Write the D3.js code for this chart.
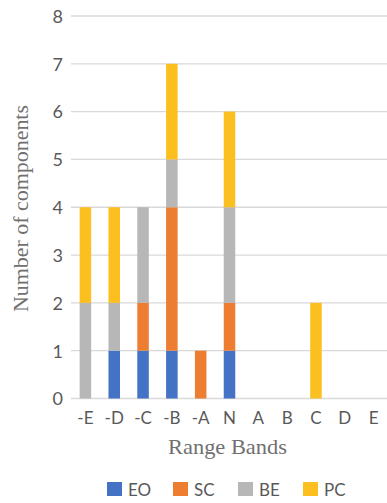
<!DOCTYPE html>
<html>
<head>
<meta charset="utf-8">
<script src="https://cdn.jsdelivr.net/npm/d3@7"></script>
<style>
  html, body { margin: 0; padding: 0; background: #fff; }
  svg { display: block; }
</style>
</head>
<body>
<svg id="chart" width="387" height="503"></svg>
<script>
const categories = ["-E", "-D", "-C", "-B", "-A", "N", "A", "B", "C", "D", "E"];
const seriesNames = ["EO", "SC", "BE", "PC"];
const EO = [0, 1, 1, 1, 0, 1, 0, 0, 0, 0, 0];
const SC = [0, 0, 1, 3, 1, 1, 0, 0, 0, 0, 0];
const BE = [2, 1, 2, 1, 0, 2, 0, 0, 0, 0, 0];
const PC = [2, 2, 0, 2, 0, 2, 0, 0, 2, 0, 0];
const yTicks = [0, 1, 2, 3, 4, 5, 6, 7, 8];
const colors = ["#4472C4", "#ED7D31", "#B7B7B7", "#FBBF1F"];

const seriesValues = [EO, SC, BE, PC];
const rows = categories.map((c, i) => {
  const r = { cat: c };
  seriesNames.forEach((s, j) => r[s] = seriesValues[j][i]);
  return r;
});

const svg = d3.select("#chart");
const x = d3.scaleBand().domain(categories).range([71, 388]).paddingInner(0.6).paddingOuter(0.3);
const y = d3.scaleLinear().domain([0, 8]).range([398.5, 16]);

// gridlines
svg.append("g").selectAll("line").data(yTicks).join("line")
  .attr("x1", 71).attr("x2", 387)
  .attr("y1", d => y(d)).attr("y2", d => y(d))
  .attr("stroke", "#D9D9D9").attr("stroke-width", 1.3);

// y axis labels
const yAxis = d3.axisLeft(y).tickValues(yTicks).tickSize(0).tickPadding(0);
const gy = svg.append("g").attr("transform", "translate(63,0)").call(yAxis);
gy.select(".domain").remove();
gy.selectAll("text").attr("font-family", "Lato, 'Open Sans', sans-serif")
  .attr("font-size", 18).attr("fill", "#595959").attr("dy", "0.35em");

// stacked bars
const stack = d3.stack().keys(seriesNames);
const stacked = stack(rows);
svg.append("g").selectAll("g").data(stacked).join("g")
  .attr("fill", (d, i) => colors[i])
  .selectAll("rect").data(d => d.filter(p => p[1] > p[0])).join("rect")
  .attr("x", d => x(d.data.cat))
  .attr("width", x.bandwidth())
  .attr("y", d => y(d[1]))
  .attr("height", d => y(d[0]) - y(d[1]));

// x axis labels
const xAxis = d3.axisBottom(x).tickSize(0).tickPadding(0);
const gx = svg.append("g").attr("transform", "translate(0,412)").call(xAxis);
gx.select(".domain").remove();
gx.selectAll("text").attr("font-family", "Lato, 'Open Sans', sans-serif")
  .attr("font-size", 17).attr("fill", "#595959").attr("dy", "0.71em");

// axis titles
svg.append("text").attr("x", 227.5).attr("y", 454).attr("text-anchor", "middle")
  .attr("font-family", "'Liberation Serif', 'DejaVu Serif', serif").attr("font-size", 21)
  .attr("textLength", 119).attr("lengthAdjust", "spacingAndGlyphs")
  .attr("fill", "#707070").text("Range Bands");
svg.append("text").attr("transform", "translate(28,208.5) rotate(-90)").attr("text-anchor", "middle")
  .attr("font-family", "'Liberation Serif', 'DejaVu Serif', serif").attr("font-size", 21)
  .attr("textLength", 207).attr("lengthAdjust", "spacingAndGlyphs")
  .attr("fill", "#707070").text("Number of components");

// legend
const legendX = [107, 173, 238, 303];
const lg = svg.append("g").selectAll("g").data(seriesNames).join("g")
  .attr("transform", (d, i) => `translate(${legendX[i]},482)`);
lg.append("rect").attr("width", 15).attr("height", 14).attr("fill", (d, i) => colors[i]);
lg.append("text").attr("x", 21).attr("y", 13.5)
  .attr("font-family", "Lato, 'Open Sans', sans-serif").attr("font-size", 17)
  .attr("fill", "#595959").text(d => d);
</script>
</body>
</html>
